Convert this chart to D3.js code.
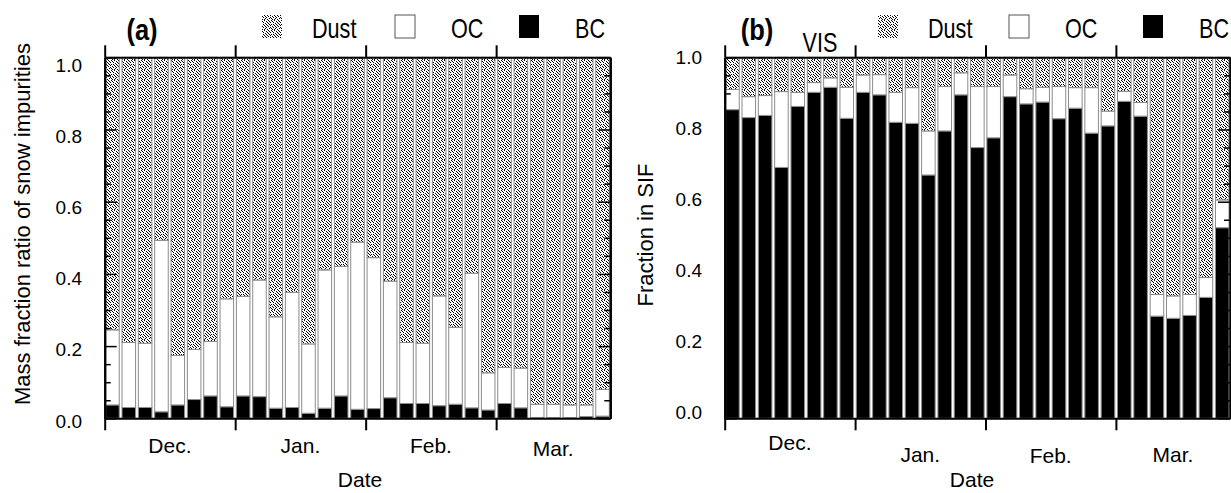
<!DOCTYPE html>
<html><head><meta charset="utf-8">
<script src="https://cdn.jsdelivr.net/npm/d3@7"></script>
<style>
body{margin:0;background:#fff;}
text{font-family:"Liberation Sans",Arial,Helvetica,sans-serif;fill:#000;}
</style></head>
<body>
<svg id="chart" width="1231" height="493"></svg>
<script>
// ---------- data ----------
const months = ["Dec.", "Jan.", "Feb.", "Mar."];
const monthCounts = [8, 8, 8, 7];
const categories = [
  "12-01","12-02","12-03","12-04","12-05","12-06","12-07","12-08",
  "01-01","01-02","01-03","01-04","01-05","01-06","01-07","01-08",
  "02-01","02-02","02-03","02-04","02-05","02-06","02-07","02-08",
  "03-01","03-02","03-03","03-04","03-05","03-06","03-07"];
const seriesKeys = ["BC", "OC", "Dust"];
const legendKeys = ["Dust", "OC", "BC"];
const yTickLabels = [0, 0.2, 0.4, 0.6, 0.8, 1.0];

// (a) mass fraction ratio of snow impurities
const bcA = [0.037,0.030,0.030,0.018,0.037,0.052,0.062,0.032,
             0.062,0.060,0.028,0.030,0.014,0.028,0.062,0.025,
             0.027,0.057,0.041,0.041,0.035,0.039,0.029,0.023,
             0.041,0.029,0.002,0.002,0.002,0.005,0.006];
const ocA = [0.208,0.180,0.178,0.475,0.137,0.139,0.151,0.299,
             0.276,0.323,0.253,0.319,0.192,0.383,0.359,0.463,
             0.418,0.323,0.169,0.167,0.304,0.213,0.373,0.103,
             0.100,0.110,0.037,0.037,0.035,0.032,0.074];
const dustA = [0.755,0.790,0.792,0.507,0.826,0.809,0.787,0.669,
               0.662,0.617,0.719,0.651,0.794,0.589,0.579,0.512,
               0.555,0.620,0.790,0.792,0.661,0.748,0.598,0.874,
               0.859,0.861,0.961,0.961,0.963,0.963,0.920];
// (b) fraction in SIF (VIS)
const bcB = [0.855,0.833,0.839,0.695,0.864,0.903,0.917,0.831,
             0.903,0.896,0.820,0.817,0.674,0.796,0.896,0.750,
             0.777,0.891,0.871,0.876,0.830,0.859,0.790,0.810,
             0.878,0.837,0.283,0.277,0.285,0.335,0.528];
const ocB = [0.056,0.058,0.055,0.210,0.039,0.027,0.026,0.086,
             0.048,0.056,0.083,0.099,0.122,0.123,0.061,0.169,
             0.142,0.060,0.042,0.041,0.089,0.057,0.126,0.041,
             0.028,0.038,0.060,0.062,0.058,0.055,0.077];
const dustB = [0.089,0.109,0.106,0.095,0.097,0.070,0.057,0.083,
               0.049,0.048,0.097,0.084,0.204,0.081,0.043,0.081,
               0.081,0.049,0.087,0.083,0.081,0.084,0.084,0.149,
               0.094,0.125,0.657,0.661,0.657,0.610,0.395];

// ---------- drawing ----------
const svg = d3.select("#chart");
const defs = svg.append("defs");
const pat = defs.append("pattern").attr("id","dust").attr("patternUnits","userSpaceOnUse")
  .attr("width",10).attr("height",10);
pat.append("rect").attr("width",10).attr("height",10).attr("fill","#fff");
const dotRows = [[1,4,8],[2,6,9],[0,3,7],[5,8],[1,3,6,9],[0,4,7],[2,5,8],[0,3,6],[1,5,9],[2,4,7]];
dotRows.forEach((row,j)=>row.forEach(i=>pat.append("rect").attr("x",i).attr("y",j)
  .attr("width",1).attr("height",1).attr("fill","#000")));

const fills = {BC:"#000", OC:"#fff", Dust:"url(#dust)"};

const panels = [
  {x0:104.7, x1:610.3, bc:bcA, oc:ocA, dust:dustA, tag:"(a)", tagX:142,
   labTop:65, labBot:421, labRight:82, title:"Mass fraction ratio of snow impurities", titleX:22, titleY:224,
   dateX:360, monthDy:[0,0,0,3], legX:[262,395,519], vis:null},
  {x0:724.7, x1:1230, bc:bcB, oc:ocB, dust:dustB, tag:"(b)", tagX:757,
   labTop:57, labBot:412, labRight:702, title:"Fraction in SIF", titleX:645, titleY:235,
   dateX:972, monthDy:[-3,9,10,9], legX:[878,1009,1143], vis:820}
];
const yTop = 57.3, yBot = 418.3;

panels.forEach(p=>{
  const g = svg.append("g");
  const rows = categories.map((c,i)=>({cat:c, BC:p.bc[i], OC:p.oc[i], Dust:p.dust[i]}));
  const stack = d3.stack().keys(seriesKeys)(rows);
  const x = d3.scaleBand().domain(categories).range([p.x0,p.x1]).paddingInner(0.17).paddingOuter(0.06);
  const xl = d3.scaleLinear().domain([0,categories.length]).range([p.x0,p.x1]);
  const y = d3.scaleLinear().domain([0,1]).range([yBot,yTop]);
  const yLab = d3.scaleLinear().domain([0,1]).range([p.labBot,p.labTop]);

  g.selectAll("g.layer").data(stack).join("g").attr("class","layer")
    .attr("fill",d=>fills[d.key])
    .selectAll("rect").data(d=>d).join("rect")
    .attr("x",d=>x(d.data.cat)).attr("width",x.bandwidth())
    .attr("y",d=>y(d[1])).attr("height",d=>Math.max(0,y(d[0])-y(d[1])))
    .attr("stroke","#8c8c8c").attr("stroke-width",1);

  // month boundaries
  const tb = Array.from(d3.cumsum([0].concat(monthCounts.slice(0,-1))));
  const axB = g.append("g").attr("transform",`translate(0,${yBot})`)
    .call(d3.axisBottom(xl).tickValues(tb).tickSize(12).tickSizeOuter(0).tickFormat(""));
  const axT = g.append("g").attr("transform",`translate(0,${yTop})`)
    .call(d3.axisTop(xl).tickValues(tb).tickSize(12).tickSizeOuter(0).tickFormat(""));
  [axB,axT].forEach(a=>{a.select(".domain").attr("stroke-width",2); a.selectAll(".tick line").attr("stroke-width",2);});

  // y ticks inward, both sides
  const minor = d3.range(0,21).map(i=>i*0.05).filter(v=>Math.abs(v*5-Math.round(v*5))>1e-6);
  const mk = (axisFn, xpos, vals, size)=>{
    const a = g.append("g").attr("transform",`translate(${xpos},0)`)
      .call(axisFn(y).tickValues(vals).tickSize(size).tickSizeOuter(0).tickFormat(""));
    a.select(".domain").attr("stroke-width",2);
    a.selectAll(".tick line").attr("stroke-width",1.5);
  };
  mk(d3.axisRight, p.x0, minor, 6);
  mk(d3.axisRight, p.x0, yTickLabels, 12);
  mk(d3.axisLeft, p.x1, minor, 6);
  mk(d3.axisLeft, p.x1, yTickLabels, 12);

  // y tick labels
  const labAx = g.append("g").attr("transform",`translate(${p.labRight},0)`)
    .call(d3.axisLeft(yLab).tickValues(yTickLabels).tickSize(0).tickPadding(0).tickFormat(d3.format(".1f")));
  labAx.select(".domain").remove();
  labAx.selectAll("text").style("font-size","19px").style("font-family","'Liberation Sans',Arial,sans-serif");

  // month labels
  months.forEach((m,i)=>{
    g.append("text").attr("x",xl(tb[i]+monthCounts[i]/2)).attr("y",453+p.monthDy[i])
      .attr("text-anchor","middle").style("font-size","21px").text(m);
  });
  g.append("text").attr("x",p.dateX).attr("y",487).attr("text-anchor","middle").style("font-size","21px").text("Date");

  // y title
  g.append("text").attr("transform",`translate(${p.titleX},${p.titleY}) rotate(-90)`)
    .attr("dy","0.35em").attr("text-anchor","middle").style("font-size","22px").text(p.title);

  // tag
  g.append("text").attr("transform",`translate(${p.tagX},40) scale(0.85,1)`).attr("text-anchor","middle")
    .style("font-size","30px").style("font-weight","bold").text(p.tag);
  if(p.vis){
    g.append("text").attr("transform",`translate(${p.vis},52) scale(0.8,1)`).attr("text-anchor","middle")
      .style("font-size","27px").text("VIS");
  }
  // legend
  legendKeys.forEach((k,i)=>{
    const lx = p.legX[i];
    g.append("rect").attr("x",lx).attr("y",15).attr("width",20).attr("height",23)
      .attr("fill",fills[k]).attr("stroke",k==="OC"?"#555":"none").attr("stroke-width",1);
    g.append("text").attr("transform",`translate(${lx+(k==="Dust"?50:56)},38) scale(0.8,1)`)
      .style("font-size","27px").text(k);
  });
});
</script>
</body></html>
